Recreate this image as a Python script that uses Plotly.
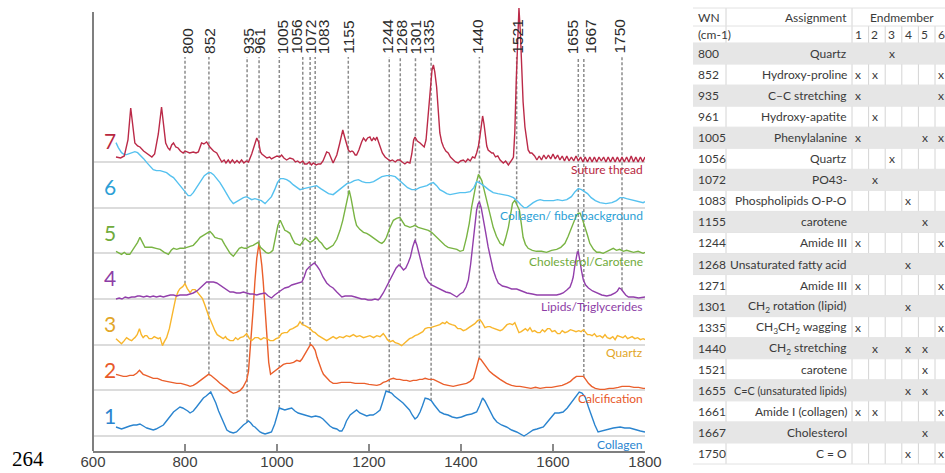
import numpy as np
import plotly.graph_objects as go

W, H = 945, 473
STEP = 45.67  # vertical offset between stacked endmember spectra (a.u.)

# ---- endmember spectra: (Raman shift cm-1, intensity a.u.) ----
collagen = [(650, 9), (656, 8), (662, 7), (668, 8), (673, 9), (680, 10), (688, 11), (695, 11), (702, 12), (708, 10),
            (713, 9), (717, 8), (724, 7), (731, 6), (737, 7), (742, 8), (747, 9), (753, 11), (758, 14), (764, 18),
            (770, 21), (775, 24), (782, 27), (789, 29), (795, 28), (800, 27), (806, 25), (811, 23), (818, 25), (825, 29),
            (832, 33), (840, 38), (846, 40), (851, 42), (856, 44), (862, 38), (867, 33), (873, 25), (880, 18), (886, 11),
            (891, 6), (898, 4), (905, 3), (912, 4), (920, 8), (927, 11), (933, 13), (938, 15), (943, 13), (948, 10),
            (952, 9), (958, 6), (963, 4), (968, 3), (974, 2), (981, 3), (988, 4), (995, 12), (1000, 20), (1005, 28),
            (1011, 27), (1017, 26), (1024, 27), (1032, 28), (1039, 25), (1046, 23), (1053, 22), (1061, 21), (1068, 20),
            (1075, 19), (1084, 20), (1093, 19), (1100, 17), (1108, 13), (1115, 10), (1122, 8), (1130, 7), (1136, 5),
            (1141, 5), (1146, 9), (1151, 15), (1159, 21), (1166, 24), (1173, 26), (1180, 23), (1188, 21), (1195, 20),
            (1202, 21), (1209, 21), (1216, 23), (1224, 26), (1229, 33), (1233, 40), (1237, 45), (1243, 44), (1249, 43),
            (1255, 40), (1261, 38), (1267, 36), (1274, 33), (1282, 29), (1288, 26), (1294, 21), (1300, 17), (1305, 19),
            (1311, 24), (1316, 30), (1322, 38), (1329, 37), (1336, 35), (1342, 31), (1348, 27), (1354, 24), (1363, 22),
            (1372, 21), (1381, 19), (1391, 18), (1401, 19), (1412, 21), (1423, 22), (1434, 24), (1440, 30), (1444, 36),
            (1447, 38), (1452, 35), (1459, 29), (1465, 23), (1471, 18), (1478, 14), (1488, 11), (1499, 9), (1510, 6),
            (1521, 4), (1530, 2), (1537, 0), (1544, 2), (1550, 4), (1557, 6), (1565, 7), (1572, 8), (1579, 9), (1586, 13),
            (1593, 17), (1600, 21), (1604, 23), (1613, 23), (1622, 24), (1631, 28), (1641, 34), (1649, 39), (1657, 44),
            (1663, 43), (1670, 39), (1677, 29), (1684, 19), (1691, 11), (1698, 4), (1705, 5), (1717, 6), (1731, 8),
            (1746, 9), (1756, 8), (1767, 8), (1780, 6), (1790, 5), (1800, 4)]

calcification = [(650, 16), (658, 15), (666, 14), (673, 14), (680, 15), (688, 15), (695, 17), (701, 20), (705, 18),
                 (709, 16), (715, 15), (722, 14), (731, 12), (740, 12), (750, 10), (760, 9), (770, 8), (782, 7), (791, 7),
                 (800, 6), (806, 5), (811, 4), (818, 5), (825, 7), (833, 10), (840, 12), (846, 15), (851, 16), (856, 15),
                 (862, 13), (869, 10), (876, 7), (883, 5), (891, 2), (898, -1), (905, -3), (912, -2), (920, 0), (926, 3),
                 (930, 6), (934, 10), (938, 19), (941, 35), (945, 59), (948, 80), (952, 109), (956, 132), (961, 147),
                 (964, 138), (967, 125), (970, 109), (974, 80), (978, 49), (982, 28), (986, 16), (992, 18), (999, 21),
                 (1006, 23), (1014, 26), (1021, 27), (1028, 27), (1036, 28), (1043, 30), (1050, 29), (1054, 31),
                 (1059, 35), (1063, 38), (1068, 43), (1073, 46), (1078, 44), (1083, 40), (1087, 33), (1092, 26),
                 (1097, 20), (1101, 16), (1108, 12), (1115, 9), (1122, 7), (1130, 7), (1140, 8), (1151, 8), (1160, 8),
                 (1170, 7), (1180, 7), (1190, 7), (1200, 6), (1210, 5), (1217, 5), (1225, 6), (1231, 8), (1238, 9),
                 (1245, 11), (1253, 12), (1260, 11), (1267, 11), (1275, 10), (1282, 10), (1289, 9), (1296, 10),
                 (1303, 10), (1310, 11), (1316, 11), (1322, 12), (1330, 11), (1340, 11), (1350, 9), (1362, 6), (1372, 5),
                 (1383, 4), (1392, 5), (1400, 6), (1412, 7), (1420, 9), (1427, 12), (1432, 20), (1436, 28), (1439, 32),
                 (1443, 31), (1449, 27), (1455, 23), (1462, 19), (1470, 16), (1478, 13), (1485, 11), (1492, 9),
                 (1499, 7), (1510, 5), (1520, 4), (1528, 4), (1540, 3), (1552, 2), (1562, 3), (1572, 2), (1585, 3),
                 (1597, 3), (1608, 4), (1620, 5), (1630, 7), (1638, 9), (1645, 12), (1651, 14), (1658, 14), (1666, 14),
                 (1671, 11), (1677, 7), (1684, 4), (1692, 2), (1702, 1), (1712, 1), (1722, 2), (1731, 2), (1742, 3),
                 (1750, 4), (1757, 4), (1766, 4), (1776, 3), (1786, 3), (1796, 2), (1800, 2)]

quartz = [(650, 6), (656, 3), (662, 1), (668, 4), (673, 7), (679, 5), (684, 4), (688, 6), (691, 7), (696, 10), (701, 16),
          (705, 10), (709, 7), (713, 9), (717, 9), (722, 6), (728, 6), (733, 8), (738, 7), (742, 6), (746, 7), (749, 3),
          (751, -1), (755, 3), (760, 7), (766, 16), (771, 27), (776, 38), (780, 47), (785, 53), (789, 56), (795, 58),
          (800, 61), (805, 56), (811, 52), (816, 55), (822, 55), (826, 53), (829, 51), (834, 48), (838, 46), (843, 40),
          (847, 34), (852, 28), (856, 24), (861, 18), (865, 14), (870, 10), (876, 8), (883, 6), (888, 8), (891, 6),
          (898, 4), (905, 4), (910, 7), (915, 5), (920, 7), (927, 8), (934, 11), (940, 6), (945, 4), (952, 7), (959, 7),
          (965, 5), (971, 7), (978, 6), (985, 4), (992, 4), (998, 6), (1004, 7), (1010, 11), (1016, 12), (1022, 12),
          (1028, 15), (1034, 16), (1039, 17), (1045, 19), (1050, 23), (1055, 20), (1061, 19), (1066, 18), (1072, 16),
          (1078, 13), (1083, 12), (1090, 9), (1097, 7), (1102, 6), (1108, 4), (1115, 6), (1122, 8), (1129, 6),
          (1136, 8), (1144, 7), (1151, 9), (1158, 8), (1166, 10), (1173, 8), (1180, 9), (1188, 7), (1195, 8),
          (1202, 9), (1210, 7), (1217, 9), (1224, 8), (1231, 11), (1236, 8), (1240, 5), (1246, 3), (1252, 4),
          (1257, 2), (1264, 1), (1271, -1), (1276, 1), (1282, 4), (1288, 6), (1294, 7), (1300, 9), (1306, 10),
          (1312, 12), (1317, 13), (1322, 16), (1328, 17), (1334, 17), (1340, 18), (1347, 19), (1354, 20), (1360, 22),
          (1365, 21), (1369, 23), (1374, 21), (1380, 20), (1387, 19), (1393, 16), (1399, 16), (1405, 14), (1411, 15),
          (1417, 17), (1423, 19), (1430, 21), (1436, 24), (1441, 25), (1446, 22), (1452, 17), (1458, 18), (1463, 18),
          (1467, 17), (1473, 16), (1479, 15), (1485, 14), (1490, 15), (1495, 18), (1500, 20), (1506, 21), (1512, 20),
          (1517, 22), (1522, 17), (1526, 12), (1531, 13), (1536, 15), (1540, 16), (1545, 14), (1550, 17), (1555, 13),
          (1560, 14), (1566, 12), (1572, 12), (1577, 15), (1582, 13), (1588, 16), (1593, 16), (1598, 13), (1604, 14),
          (1610, 11), (1615, 11), (1620, 14), (1626, 12), (1632, 13), (1638, 15), (1644, 14), (1650, 13), (1656, 14),
          (1661, 13), (1666, 15), (1671, 12), (1675, 10), (1680, 10), (1685, 9), (1690, 11), (1695, 8), (1702, 9),
          (1708, 7), (1713, 10), (1718, 7), (1724, 6), (1730, 8), (1735, 5), (1740, 9), (1746, 8), (1752, 7),
          (1757, 9), (1762, 6), (1767, 7), (1772, 8), (1778, 6), (1784, 7), (1790, 5), (1796, 6), (1800, 5)]

lipids = [(650, 0), (657, 1), (663, 0), (670, 2), (677, 1), (684, 2), (691, 2), (697, 3), (702, 3), (710, 2), (717, 3),
          (724, 2), (731, 3), (738, 2), (746, 3), (753, 2), (760, 3), (768, 4), (775, 4), (782, 3), (789, 4), (797, 4),
          (804, 4), (811, 5), (818, 6), (826, 8), (833, 11), (840, 14), (847, 17), (855, 17), (862, 17), (869, 16),
          (876, 14), (883, 12), (890, 10), (898, 7), (905, 7), (912, 6), (920, 6), (927, 7), (934, 6), (941, 5),
          (948, 5), (956, 4), (963, 5), (970, 6), (974, 6), (981, 3), (988, 1), (995, 4), (1003, 7), (1010, 9),
          (1017, 11), (1025, 12), (1032, 14), (1039, 15), (1046, 16), (1054, 17), (1059, 22), (1064, 29), (1070, 32),
          (1076, 34), (1081, 36), (1087, 33), (1093, 29), (1100, 22), (1108, 16), (1115, 13), (1122, 11), (1130, 7),
          (1136, 4), (1141, 2), (1148, 3), (1155, 3), (1162, 3), (1170, 2), (1177, 1), (1184, 0), (1191, 0),
          (1198, -1), (1206, -1), (1213, 0), (1220, -1), (1224, 1), (1231, 6), (1238, 12), (1245, 19), (1253, 26),
          (1259, 31), (1265, 34), (1270, 32), (1275, 29), (1280, 31), (1285, 36), (1290, 42), (1295, 52), (1300, 59),
          (1304, 54), (1308, 46), (1311, 42), (1316, 32), (1322, 22), (1329, 17), (1336, 14), (1345, 12), (1352, 10),
          (1358, 9), (1367, 7), (1376, 6), (1384, 4), (1391, 2), (1398, 5), (1405, 7), (1411, 12), (1416, 19),
          (1421, 35), (1427, 59), (1431, 78), (1434, 89), (1437, 95), (1440, 97), (1444, 91), (1448, 82), (1453, 68),
          (1459, 52), (1465, 38), (1470, 29), (1476, 21), (1481, 16), (1490, 13), (1499, 12), (1510, 10), (1521, 10),
          (1532, 8), (1543, 6), (1555, 5), (1565, 4), (1580, 4), (1595, 4), (1608, 4), (1616, 5), (1622, 6), (1630, 9),
          (1637, 12), (1641, 17), (1644, 22), (1647, 32), (1650, 42), (1653, 47), (1655, 47), (1657, 43), (1659, 37),
          (1662, 28), (1666, 19), (1671, 14), (1677, 11), (1686, 8), (1695, 6), (1706, 4), (1717, 3), (1726, 4),
          (1735, 6), (1740, 8), (1744, 11), (1748, 10), (1753, 7), (1758, 4), (1764, 2), (1775, 2), (1786, 1),
          (1796, 2), (1800, 2)]

cholesterol = [(650, 2), (655, 1), (662, -1), (668, 1), (673, -1), (680, -1), (686, 3), (691, 6), (697, 11), (702, 16),
               (707, 12), (713, 6), (720, 6), (728, 6), (737, 5), (746, 4), (755, 1), (764, -1), (770, 3), (775, 5),
               (782, 4), (789, 5), (797, 5), (804, 6), (811, 7), (818, 8), (826, 12), (833, 16), (840, 18), (847, 20),
               (854, 22), (860, 19), (865, 16), (872, 15), (880, 14), (886, 9), (891, 5), (898, 0), (905, -3), (912, 1),
               (918, 5), (923, 6), (929, 5), (934, 5), (941, 7), (948, 8), (954, 10), (959, 11), (964, 6), (970, 3),
               (976, 1), (981, 0), (986, 1), (991, 3), (996, 15), (1002, 28), (1007, 33), (1012, 28), (1017, 23),
               (1022, 22), (1028, 20), (1034, 14), (1039, 10), (1045, 9), (1050, 8), (1056, 12), (1061, 15), (1066, 13),
               (1072, 11), (1079, 13), (1086, 16), (1092, 12), (1097, 10), (1103, 6), (1108, 4), (1115, 6), (1122, 8),
               (1130, 14), (1137, 23), (1143, 33), (1148, 43), (1153, 56), (1157, 63), (1161, 55), (1164, 46),
               (1169, 35), (1173, 28), (1180, 24), (1188, 21), (1195, 20), (1202, 18), (1210, 15), (1217, 13),
               (1223, 11), (1228, 10), (1233, 12), (1238, 16), (1245, 25), (1253, 33), (1260, 35), (1267, 36),
               (1273, 32), (1278, 28), (1284, 27), (1289, 26), (1295, 27), (1300, 28), (1307, 26), (1315, 25),
               (1322, 24), (1329, 23), (1336, 21), (1343, 18), (1350, 14), (1358, 11), (1365, 8), (1372, 6), (1380, 5),
               (1391, 4), (1398, 2), (1405, 3), (1412, 16), (1418, 30), (1423, 46), (1428, 60), (1433, 70), (1438, 79),
               (1442, 76), (1445, 73), (1450, 64), (1456, 53), (1462, 40), (1470, 26), (1477, 17), (1485, 10),
               (1492, 8), (1497, 15), (1503, 26), (1508, 40), (1512, 50), (1517, 53), (1522, 48), (1527, 43),
               (1531, 30), (1535, 16), (1540, 9), (1546, 5), (1555, 3), (1564, 2), (1575, 2), (1586, 1), (1597, 3),
               (1608, 4), (1617, 6), (1626, 10), (1633, 17), (1640, 26), (1646, 33), (1651, 38), (1655, 40),
               (1659, 40), (1664, 34), (1670, 26), (1675, 18), (1680, 10), (1688, 4), (1695, 1), (1702, 1), (1709, 0),
               (1716, 2), (1722, 3), (1731, 5), (1738, 3), (1745, 4), (1753, 2), (1760, 3), (1768, 2), (1775, 1),
               (1785, 2), (1796, 0), (1800, 1)]

fiber = [(650, 65), (655, 60), (662, 55), (668, 53), (673, 53), (680, 54), (686, 55), (691, 56), (697, 55), (702, 53),
         (710, 49), (717, 45), (724, 41), (731, 38), (738, 37), (746, 37), (753, 36), (760, 35), (768, 32), (775, 30),
         (784, 25), (793, 20), (800, 15), (807, 12), (812, 12), (818, 15), (825, 20), (833, 26), (842, 32), (851, 35),
         (856, 35), (862, 33), (869, 29), (876, 25), (884, 19), (891, 13), (898, 8), (905, 4), (912, 6), (920, 8),
         (927, 10), (934, 11), (940, 9), (945, 8), (952, 9), (959, 8), (966, 7), (974, 4), (981, 7), (988, 11),
         (995, 18), (1001, 25), (1007, 29), (1014, 29), (1021, 28), (1028, 26), (1035, 23), (1042, 21), (1050, 18),
         (1058, 19), (1068, 20), (1076, 21), (1086, 22), (1095, 19), (1104, 16), (1112, 14), (1122, 13), (1130, 16),
         (1137, 19), (1144, 21), (1152, 24), (1160, 25), (1168, 27), (1177, 28), (1185, 26), (1193, 25), (1202, 25),
         (1210, 26), (1218, 28), (1228, 31), (1238, 32), (1248, 32), (1257, 31), (1266, 27), (1275, 23), (1284, 20),
         (1293, 18), (1302, 18), (1310, 20), (1318, 21), (1326, 22), (1333, 24), (1340, 25), (1347, 22), (1354, 18),
         (1362, 16), (1369, 14), (1376, 13), (1387, 14), (1398, 15), (1409, 15), (1420, 16), (1428, 20), (1434, 26),
         (1440, 25), (1445, 23), (1452, 21), (1460, 18), (1470, 15), (1480, 14), (1492, 13), (1503, 12), (1514, 10),
         (1522, 7), (1530, 3), (1537, 0), (1543, 0), (1550, 3), (1557, 5), (1565, 7), (1572, 8), (1580, 7), (1590, 7),
         (1601, 7), (1610, 8), (1620, 7), (1630, 8), (1640, 11), (1648, 16), (1655, 19), (1662, 18), (1668, 16),
         (1675, 14), (1683, 10), (1692, 7), (1702, 5), (1715, 4), (1728, 5), (1738, 7), (1746, 10), (1753, 10),
         (1760, 9), (1768, 8), (1775, 7), (1785, 6), (1796, 5), (1800, 6)]

suture = [(650, 5), (660, 4), (668, 6), (676, 22), (682, 54), (687, 32), (691, 19), (697, 16), (702, 15), (710, 11),
          (717, 9), (723, 7), (728, 5), (734, 8), (742, 28), (749, 55), (754, 32), (758, 19), (763, 14), (767, 12),
          (771, 17), (775, 19), (780, 15), (785, 14), (790, 11), (796, 9), (800, 11), (804, 10), (810, 9), (818, 10),
          (824, 9), (829, 10), (836, 19), (841, 18), (847, 20), (851, 17), (854, 15), (862, 11), (869, 9), (875, 4),
          (880, 0), (885, 2), (889, -1), (894, 2), (898, -1), (903, 2), (908, -1), (913, 1.5), (918, -1), (923, 2),
          (928, -1), (933, 1), (938, 0), (945, 8), (951, 16), (956, 24), (960, 20), (964, 10), (967, 8), (972, 6),
          (978, 4), (984, 5), (988, 3), (992, 4), (1000, 6), (1006, 5), (1010, 7), (1015, 4), (1021, 2), (1028, 4),
          (1035, 3), (1040, 0), (1045, 1), (1050, -1), (1056, 1), (1060, -2), (1065, -2), (1070, 0), (1075, -3),
          (1079, -1), (1085, -3), (1090, -2), (1095, -2), (1100, 1), (1104, 6), (1108, 10), (1113, 9), (1118, 3),
          (1122, -1), (1126, 3), (1130, 7), (1136, 18), (1140, 28), (1143, 32), (1147, 25), (1151, 19), (1155, 12),
          (1159, 10), (1163, 11), (1166, 10), (1170, 7), (1173, 7), (1178, 12), (1184, 20), (1188, 24), (1193, 21),
          (1197, 24), (1202, 25), (1206, 21), (1210, 24), (1214, 22), (1217, 25), (1221, 20), (1224, 15), (1229, 9),
          (1235, 5), (1240, 3), (1246, 1), (1251, 2), (1257, 0), (1262, 2), (1267, 2), (1272, 0), (1278, -2),
          (1283, 0), (1289, -1), (1293, 8), (1297, 22), (1300, 25), (1305, 21), (1311, 19), (1316, 17), (1320, 15),
          (1324, 22), (1328, 45), (1333, 75), (1337, 92), (1340, 97), (1343, 90), (1347, 75), (1351, 45), (1354, 29),
          (1358, 20), (1362, 15), (1367, 11), (1372, 9), (1377, 5), (1383, 2), (1388, 0), (1394, -1), (1399, 1),
          (1405, 2), (1410, 0), (1415, 3), (1420, 1), (1425, 5), (1430, 4), (1434, 9), (1438, 16), (1441, 25),
          (1444, 38), (1447, 46), (1450, 38), (1453, 25), (1456, 16), (1459, 12), (1463, 10), (1467, 9), (1470, 9),
          (1475, 5), (1480, 6), (1485, 2), (1492, -1), (1497, 1), (1503, -3), (1508, 0), (1512, 3), (1514, 5),
          (1517, 30), (1520, 80), (1523, 125), (1526, 154), (1529, 130), (1532, 95), (1535, 60), (1539, 35),
          (1543, 20), (1546, 12), (1550, 9), (1554, 9), (1560, 6), (1565, 2), (1570, 6), (1575, 2), (1580, 7),
          (1585, 3), (1590, 7), (1595, 3), (1600, 8), (1605, 3), (1610, 7), (1615, 2), (1620, 6), (1625, 1),
          (1630, 6), (1635, 1), (1640, 5), (1645, 1), (1650, 6), (1655, 1), (1660, 5), (1665, 0), (1670, 5),
          (1675, 0), (1680, 5), (1685, 0), (1690, 5), (1695, 0), (1700, 5), (1705, 1), (1710, 5), (1715, 0),
          (1720, 5), (1725, 0), (1730, 5), (1735, 0), (1740, 5), (1745, 0), (1750, 5), (1755, 0), (1760, 5),
          (1765, 0), (1770, 6), (1775, 0), (1780, 5), (1785, 0), (1790, 5), (1795, 0), (1800, 5)]

SPECTRA = [collagen, calcification, quartz, lipids, cholesterol, fiber, suture]
SERIES_NAMES = ["Collagen", "Calcification", "Quartz", "Lipids/Triglycerides",
                "Cholesterol/Carotene", "Collagen/ fiber background", "Suture thread"]
LINE_COLORS = ["#2a84cf", "#ea5f2c", "#f8b62c", "#923fab", "#79b443", "#55c1ef", "#bb2a48"]
TEXT_COLORS = ["#2a84cf", "#e8592a", "#e2a628", "#8d3da6", "#71ab3c", "#2c9fd6", "#b8283f"]

# ---- marked band positions (cm-1) and the lowest endmember each guide reaches ----
BANDS = [800, 852, 935, 961, 1005, 1056, 1072, 1083, 1155, 1244, 1268, 1301, 1335, 1440, 1521, 1655, 1667, 1750]
BAND_REACH = [3, 2, 1, 2, 1, 3, 2, 4, 5, 1, 4, 4, 1, 2, 5, 4, 2, 4]
BAND_LABEL_SHIFT = [2, 0, 1, 0, 3, -7, 0, 8, 0, -2, 1, 0, -3, -2, 0, -6, 6, -3]

# ---- band assignment table ----
TABLE_WN = ["800", "852", "935", "961", "1005", "1056", "1072", "1083", "1155", "1244",
            "1268", "1271", "1301", "1335", "1440", "1521", "1655", "1661", "1667", "1750"]
TABLE_ASSIGN = ["Quartz", "Hydroxy-proline", "C–C stretching", "Hydroxy-apatite", "Phenylalanine",
                "Quartz", "PO43-", "Phospholipids O-P-O", "carotene", "Amide III",
                "Unsaturated fatty acid", "Amide III", "CH<sub>2</sub> rotation (lipid)",
                "CH<sub>3</sub>CH<sub>2</sub> wagging", "CH<sub>2</sub> stretching", "carotene",
                "C=C (unsaturated lipids)", "Amide I (collagen)", "Cholesterol", "C = O"]
TABLE_MEMBERS = [[3], [1, 2, 6], [1, 6], [2], [1, 5, 6], [3], [2], [4], [5], [1, 6],
                 [4], [1, 6], [4], [1, 6], [2, 4, 5], [5], [4, 5], [1, 2, 6], [5], [4, 6]]

# ---------------------------------------------------------------
X0, X1 = 93, 645          # spectrum axes, pixel extent
Y_TOP, Y_BOT = 6, 451


def px(x):
    return x / W


def py(y):
    return 1 - y / H


fig = go.Figure()
for k, spec in enumerate(SPECTRA):
    wn, inten = zip(*spec)
    fig.add_trace(go.Scatter(
        x=list(wn), y=[v + k * STEP for v in inten], mode="lines",
        line=dict(color=LINE_COLORS[k], width=1.4), hoverinfo="skip", showlegend=False))

shapes = []
annotations = []

# y axis line (shorter than the plotting area)
shapes.append(dict(type="line", xref="paper", yref="paper", x0=px(X0), x1=px(X0), y0=py(Y_BOT), y1=py(12),
                   line=dict(color="#7f7f7f", width=2)))

# dashed guides at marked bands
guide_top = 436 - 57
for wn, k, dx in zip(BANDS, BAND_REACH, BAND_LABEL_SHIFT):
    s = SPECTRA[k - 1]
    xs, ys = zip(*s)
    y0 = float(np.interp(wn, xs, ys)) + (k - 1) * STEP
    shapes.append(dict(type="line", xref="x", yref="y", x0=wn, x1=wn, y0=y0, y1=guide_top, layer="between",
                       line=dict(color="#8c8c8c", width=1.5, dash="3px,2px")))
    annotations.append(dict(x=wn, xref="x", y=py(56), yref="paper", text=str(wn), textangle=-90,
                            xanchor="center", yanchor="bottom", xshift=dx, showarrow=False,
                            font=dict(family="Liberation Sans", size=15.5, color="#2b2b2b")))

# series numbers and names
for k, name in enumerate(SERIES_NAMES):
    base = k * STEP
    annotations.append(dict(x=px(110), xref="paper", y=base + 21, yref="y", text=str(k + 1), showarrow=False,
                            xanchor="center", yanchor="middle",
                            font=dict(family="Lato", size=21, color=TEXT_COLORS[k])))
    annotations.append(dict(x=px(X1), xref="paper", y=base - 8, yref="y", text=name, showarrow=False,
                            xanchor="right", yanchor="middle",
                            font=dict(family="Lato", size=12, color=TEXT_COLORS[k])))

annotations.append(dict(x=px(28), xref="paper", y=py(459), yref="paper", text="264", showarrow=False,
                        xanchor="center", yanchor="middle",
                        font=dict(family="Liberation Serif", size=21, color="#000000")))

# ---- table geometry ----
T_LEFT, T_RIGHT = 693, 960
C_WN, C_ASG = 726, 852
CW = 16.6
H1_TOP, H1_BOT, H2_BOT = 8, 26, 43
RH = 21.05
n_rows = len(TABLE_WN)
T_BOT = H2_BOT + n_rows * RH
grid = "#d4d4d4"
tfont = dict(family="Lato", size=12, color="#3a3a3a")

# vertical separators
for xv in (C_WN, C_ASG):
    shapes.append(dict(type="line", xref="paper", yref="paper", x0=px(xv), x1=px(xv), y0=py(H1_TOP), y1=py(T_BOT),
                       line=dict(color=grid, width=1)))
for i in range(1, 6):
    xv = C_ASG + i * CW
    shapes.append(dict(type="line", xref="paper", yref="paper", x0=px(xv), x1=px(xv), y0=py(H1_BOT), y1=py(T_BOT),
                       line=dict(color=grid, width=1)))
# horizontal separators
for yv in [H1_TOP, H1_BOT, H2_BOT] + [H2_BOT + (i + 1) * RH for i in range(n_rows)]:
    shapes.append(dict(type="line", xref="paper", yref="paper", x0=px(T_LEFT), x1=px(T_RIGHT), y0=py(yv), y1=py(yv),
                       line=dict(color="#e2e2e2", width=1)))
# shaded rows
for i in range(0, n_rows, 2):
    top = H2_BOT + i * RH
    shapes.append(dict(type="rect", xref="paper", yref="paper", x0=px(T_LEFT), x1=px(T_RIGHT),
                       y0=py(top + RH), y1=py(top), fillcolor="#e6e6e6", line=dict(width=0)))

# header
hy1 = (H1_TOP + H1_BOT) / 2 + 0.5
hy2 = (H1_BOT + H2_BOT) / 2 + 0.5
annotations.append(dict(x=px(696), xref="paper", y=py(hy1), yref="paper", text="WN", showarrow=False,
                        xanchor="left", yanchor="middle", font=tfont))
annotations.append(dict(x=px(C_ASG - 3), xref="paper", y=py(hy1), yref="paper", text="Assignment",
                        showarrow=False, xanchor="right", yanchor="middle", font=tfont))
annotations.append(dict(x=px(C_ASG + 3 * CW), xref="paper", y=py(hy1), yref="paper", text="Endmember",
                        showarrow=False, xanchor="center", yanchor="middle", font=tfont))
annotations.append(dict(x=px(696), xref="paper", y=py(hy2), yref="paper", text="(cm-1)", showarrow=False,
                        xanchor="left", yanchor="middle", font=tfont))
for m in range(1, 7):
    annotations.append(dict(x=px(C_ASG + (m - 0.5) * CW - 2), xref="paper", y=py(hy2), yref="paper", text=str(m),
                            showarrow=False, xanchor="center", yanchor="middle", font=tfont))

# body
for i, (wn, asg, mem) in enumerate(zip(TABLE_WN, TABLE_ASSIGN, TABLE_MEMBERS)):
    yc = py(H2_BOT + (i + 0.5) * RH)
    annotations.append(dict(x=px(696), xref="paper", y=yc, yref="paper", text=wn, showarrow=False,
                            xanchor="left", yanchor="middle", font=tfont))
    # the longest assignment is set slightly smaller so it fits its cell
    afont = dict(tfont, size=10.8) if len(asg) > 22 and "<" not in asg else tfont
    annotations.append(dict(x=px(C_ASG - 3), xref="paper", y=yc, yref="paper", text=asg, showarrow=False,
                            xanchor="right", yanchor="middle", font=afont))
    for m in mem:
        annotations.append(dict(x=px(C_ASG + (m - 0.5) * CW - 2), xref="paper", y=yc, yref="paper", text="x",
                                showarrow=False, xanchor="center", yanchor="middle", font=tfont))

fig.update_layout(
    template="none",
    width=W, height=H,
    margin=dict(l=0, r=0, t=0, b=0),
    paper_bgcolor="white", plot_bgcolor="white",
    showlegend=False,
    xaxis=dict(domain=[px(X0), px(X1)], range=[600, 1800], tickvals=list(range(600, 1801, 200)),
               ticks="inside", ticklen=7, tickwidth=1.5, tickcolor="#8a8a8a",
               showline=True, linecolor="#7f7f7f", linewidth=2, showgrid=False, zeroline=False,
               automargin=False, ticklabelstandoff=-4,
               tickfont=dict(family="Liberation Sans", size=15, color="#404040")),
    yaxis=dict(domain=[1 - Y_BOT / H, 1 - Y_TOP / H], range=[-15, 430],
               tickvals=[k * STEP for k in range(len(SPECTRA))], showticklabels=False, ticks="",
               showgrid=True, gridcolor="#dcdcdc", gridwidth=1.5, zeroline=False, showline=False,
               automargin=False),
    shapes=shapes,
    annotations=annotations,
)

fig.write_html("out.html")
